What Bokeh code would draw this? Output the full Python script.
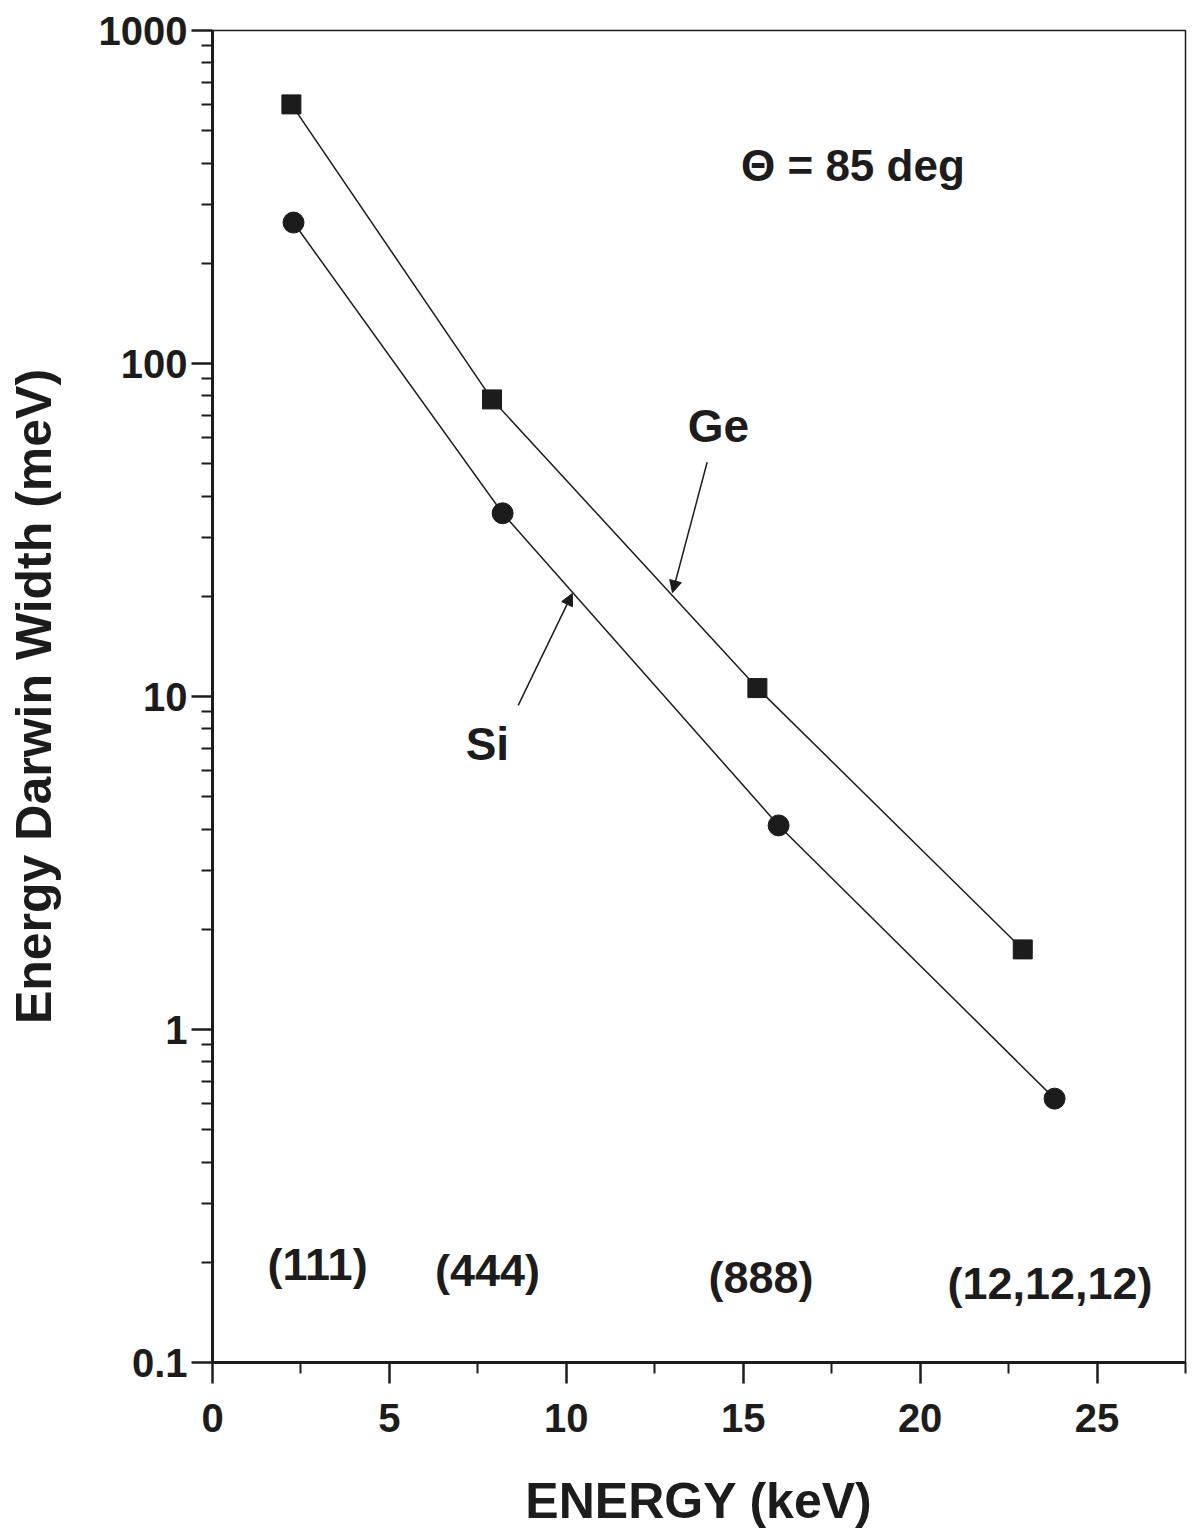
from bokeh.plotting import figure
from bokeh.models import Range1d, FixedTicker, CustomJSTickFormatter, Arrow, NormalHead, ColumnDataSource
from bokeh.core.properties import value
from bokeh.embed import file_html
from bokeh.resources import INLINE

# Data
energy_ge = [2.23, 7.9, 15.4, 22.9]
width_ge = [600, 78, 10.6, 1.74]
energy_si = [2.29, 8.2, 16.0, 23.8]
width_si = [265, 35.5, 4.1, 0.62]

refl_labels = ["(111)", "(444)", "(888)", "(12,12,12)"]
refl_x = [2.97, 7.77, 15.5, 23.67]
refl_y = [0.197, 0.189, 0.18, 0.173]

x_ticks = [0, 5, 10, 15, 20, 25]
x_minor = [2.5, 7.5, 12.5, 17.5, 22.5, 27.5]
y_ticks = [0.1, 1, 10, 100, 1000]
y_minor = [k * 10.0 ** e for e in range(-1, 3) for k in range(2, 10)]

# annotation positions (data coordinates)
ge_label = (14.3, 65)
si_label = (7.77, 7.2)
theta_label = (18.1, 393)
ge_arrow = (13.98, 50.5, 13.0, 20.5)
si_arrow = (8.64, 9.4, 10.17, 20.4)

FONT = "Liberation Sans"
INK = "#1c1c1c"

p = figure(width=1193, height=1535, y_axis_type="log",
           x_range=Range1d(0, 27.5), y_range=Range1d(0.1, 1000),
           output_backend="svg", toolbar_location=None,
           min_border_left=212, min_border_right=8,
           min_border_top=30, min_border_bottom=173)
p.background_fill_color = "white"
p.border_fill_color = "white"
p.outline_line_color = INK
p.outline_line_width = 1.5
p.xgrid.visible = False
p.ygrid.visible = False

p.xaxis.ticker = FixedTicker(ticks=x_ticks, minor_ticks=x_minor)
p.yaxis.ticker = FixedTicker(ticks=y_ticks, minor_ticks=y_minor)
p.yaxis.formatter = CustomJSTickFormatter(code="return tick.toString();")

for ax in (p.xaxis, p.yaxis):
    ax.axis_line_width = 3
    ax.axis_line_color = INK
    ax.major_tick_line_width = 2.5
    ax.minor_tick_line_width = 2
    ax.major_tick_line_color = INK
    ax.minor_tick_line_color = INK
    ax.major_tick_in = 0
    ax.minor_tick_in = 0
    ax.major_tick_out = 21
    ax.minor_tick_out = 11
    ax.major_label_text_font = FONT
    ax.major_label_text_font_style = "bold"
    ax.major_label_text_font_size = "40px"
    ax.major_label_text_color = INK
    ax.axis_label_text_font = FONT
    ax.axis_label_text_font_style = "bold"
    ax.axis_label_text_font_size = "50px"
    ax.axis_label_text_color = INK

p.xaxis.axis_label = "ENERGY (keV)"
p.yaxis.axis_label = "Energy Darwin Width (meV)"
p.xaxis.major_label_standoff = 20
p.xaxis.axis_label_standoff = 38
p.yaxis.major_label_standoff = 4
p.yaxis.axis_label_standoff = 34

# Lines and markers
p.line(energy_ge, width_ge, line_color=INK, line_width=1.5)
p.line(energy_si, width_si, line_color=INK, line_width=1.5)
p.scatter(energy_ge, width_ge, marker="square", size=19, fill_color=INK, line_color=INK)
p.scatter(energy_si, width_si, marker="circle", size=21, fill_color=INK, line_color=INK)

# Reflection labels
src = ColumnDataSource(dict(x=refl_x, y=refl_y, t=refl_labels))
p.text("x", "y", text="t", source=src, text_font=value(FONT), text_font_style="bold",
       text_font_size="45px", text_align="center", text_baseline="middle", text_color=INK)

# Other annotations
p.text([ge_label[0]], [ge_label[1]], text=["Ge"], text_font=value(FONT), text_font_style="bold",
       text_font_size="46px", text_align="center", text_baseline="middle", text_color=INK)
p.text([si_label[0]], [si_label[1]], text=["Si"], text_font=value(FONT), text_font_style="bold",
       text_font_size="46px", text_align="center", text_baseline="middle", text_color=INK)
p.text([theta_label[0]], [theta_label[1]], text=["\u0398 = 85 deg"], text_font=value(FONT),
       text_font_style="bold", text_font_size="44px", text_align="center",
       text_baseline="middle", text_color=INK)

for (xs, ys, xe, ye) in (ge_arrow, si_arrow):
    p.add_layout(Arrow(end=NormalHead(size=12, fill_color=INK, line_color=INK, line_width=1),
                       x_start=xs, y_start=ys, x_end=xe, y_end=ye,
                       line_color=INK, line_width=1.5))

open("out.html", "w").write(file_html(p, INLINE))
